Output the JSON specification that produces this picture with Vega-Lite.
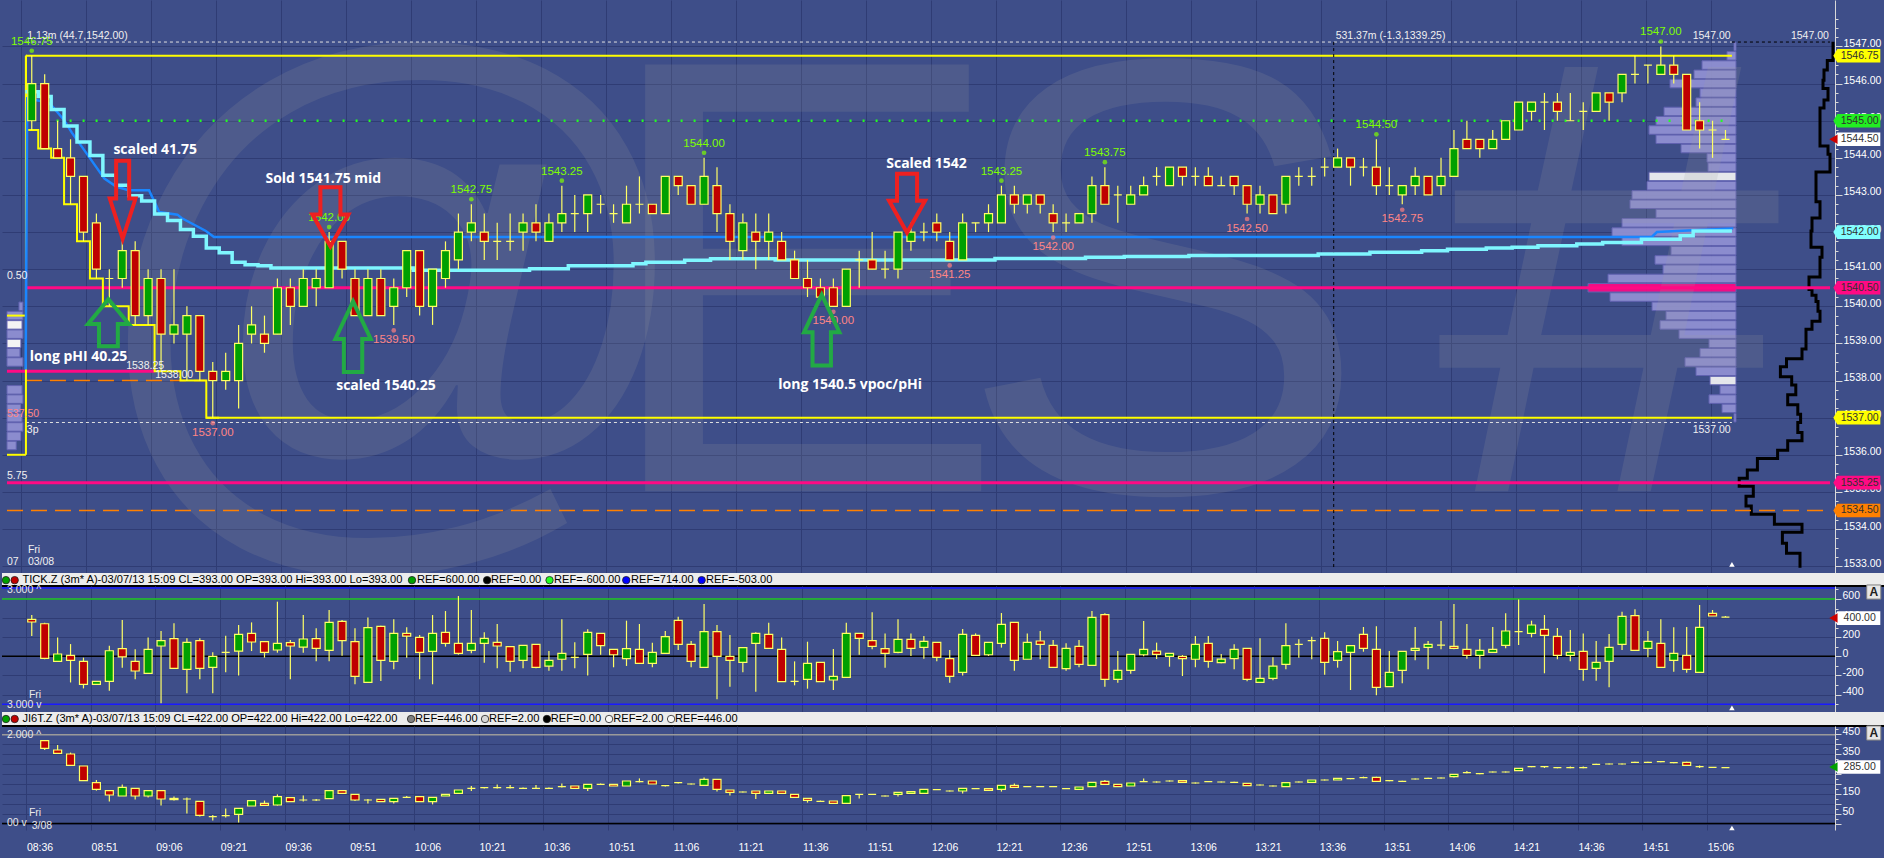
{
"$schema": "https://vega.github.io/schema/vega-lite/v6.json",
"padding": 0,
"background": "#3e4e89",
"spacing": 0,
"bounds": "flush",
"resolve": {"scale": {"color": "independent", "fill": "independent"}},
"config": {"view": {"stroke": null}, "font": "Liberation Sans"},
"datasets": {
"main": [
{"k":0,"o":1545,"h":1546.75,"l":1544.75,"c":1546},{"k":1,"o":1546,"h":1546.25,"l":1544.25,"c":1544.25},{"k":2,"o":1544.25,"h":1545,"l":1544,"c":1544},{"k":3,"o":1544,"h":1544.5,"l":1542.75,"c":1543.5},{"k":4,"o":1543.5,"h":1543.5,"l":1541.75,"c":1542},{"k":5,"o":1542.25,"h":1542.5,"l":1540.75,"c":1541},{"k":6,"o":1540.75,"h":1541,"l":1540,"c":1540.75},{"k":7,"o":1540.75,"h":1541.75,"l":1540.5,"c":1541.5},{"k":8,"o":1541.5,"h":1541.75,"l":1539.5,"c":1539.75},{"k":9,"o":1539.75,"h":1541,"l":1539.5,"c":1540.75},
{"k":10,"o":1540.75,"h":1541,"l":1538.25,"c":1539.25},{"k":11,"o":1539.25,"h":1541,"l":1539,"c":1539.5},{"k":12,"o":1539.25,"h":1540,"l":1538,"c":1539.75},{"k":13,"o":1539.75,"h":1539.75,"l":1538,"c":1538.25},{"k":14,"o":1538.25,"h":1538.5,"l":1537,"c":1538},{"k":15,"o":1538,"h":1538.75,"l":1537.75,"c":1538.25},{"k":16,"o":1538,"h":1539.5,"l":1537.25,"c":1539},{"k":17,"o":1539.25,"h":1540,"l":1539,"c":1539.5},{"k":18,"o":1539.25,"h":1539.75,"l":1538.75,"c":1539},{"k":19,"o":1539.25,"h":1540.75,"l":1539.25,"c":1540.5},
{"k":20,"o":1540.5,"h":1540.75,"l":1539.5,"c":1540},{"k":21,"o":1540,"h":1541,"l":1540,"c":1540.75},{"k":22,"o":1540.5,"h":1541,"l":1540,"c":1540.75},{"k":23,"o":1540.5,"h":1542,"l":1540.5,"c":1541.75},{"k":24,"o":1541.75,"h":1541.75,"l":1540.75,"c":1541},{"k":25,"o":1540.75,"h":1541,"l":1539.75,"c":1539.75},{"k":26,"o":1539.75,"h":1541,"l":1539.75,"c":1540.75},{"k":27,"o":1540.75,"h":1541,"l":1539.75,"c":1539.75},{"k":28,"o":1540,"h":1540.75,"l":1539.5,"c":1540.5},{"k":29,"o":1540.5,"h":1541.5,"l":1540.25,"c":1541.5},
{"k":30,"o":1541.5,"h":1541.5,"l":1539.75,"c":1540},{"k":31,"o":1540,"h":1541,"l":1539.5,"c":1541},{"k":32,"o":1540.75,"h":1541.75,"l":1540.5,"c":1541.5},{"k":33,"o":1541.25,"h":1542.5,"l":1541,"c":1542},{"k":34,"o":1542,"h":1542.75,"l":1541.75,"c":1542.25},{"k":35,"o":1542,"h":1542.5,"l":1541.25,"c":1541.75},{"k":36,"o":1541.75,"h":1542.25,"l":1541.25,"c":1541.75},{"k":37,"o":1541.75,"h":1542.5,"l":1541.5,"c":1541.75},{"k":38,"o":1542,"h":1542.5,"l":1541.5,"c":1542.25},{"k":39,"o":1542.25,"h":1542.75,"l":1541.75,"c":1542},
{"k":40,"o":1541.75,"h":1542.5,"l":1541.75,"c":1542.25},{"k":41,"o":1542.25,"h":1543.25,"l":1542,"c":1542.5},{"k":42,"o":1542.5,"h":1543,"l":1542,"c":1542.5},{"k":43,"o":1542.5,"h":1543,"l":1542,"c":1543},{"k":44,"o":1542.75,"h":1543,"l":1542.5,"c":1542.75},{"k":45,"o":1542.5,"h":1542.75,"l":1542.25,"c":1542.5},{"k":46,"o":1542.25,"h":1543.25,"l":1542.25,"c":1542.75},{"k":47,"o":1542.75,"h":1543.5,"l":1542.5,"c":1542.75},{"k":48,"o":1542.75,"h":1542.75,"l":1542.5,"c":1542.5},{"k":49,"o":1542.5,"h":1543.5,"l":1542.5,"c":1543.5},
{"k":50,"o":1543.5,"h":1543.5,"l":1543,"c":1543.25},{"k":51,"o":1543.25,"h":1543.25,"l":1542.75,"c":1542.75},{"k":52,"o":1542.75,"h":1544,"l":1542.75,"c":1543.5},{"k":53,"o":1543.25,"h":1543.75,"l":1542,"c":1542.5},{"k":54,"o":1542.5,"h":1542.75,"l":1541.25,"c":1541.75},{"k":55,"o":1541.5,"h":1542.5,"l":1541.25,"c":1542.25},{"k":56,"o":1542,"h":1542.5,"l":1541,"c":1541.75},{"k":57,"o":1541.75,"h":1542.5,"l":1541.25,"c":1542},{"k":58,"o":1541.75,"h":1542,"l":1541.25,"c":1541.25},{"k":59,"o":1541.25,"h":1541.5,"l":1540.75,"c":1540.75},
{"k":60,"o":1540.75,"h":1541.25,"l":1540.25,"c":1540.5},{"k":61,"o":1540.5,"h":1540.75,"l":1540.25,"c":1540.25},{"k":62,"o":1540.5,"h":1540.75,"l":1540,"c":1540},{"k":63,"o":1540,"h":1541,"l":1540,"c":1541},{"k":64,"o":1541.25,"h":1541.5,"l":1540.5,"c":1541.25},{"k":65,"o":1541.25,"h":1542,"l":1541,"c":1541},{"k":66,"o":1541,"h":1541.5,"l":1540.75,"c":1541},{"k":67,"o":1541,"h":1542,"l":1540.75,"c":1542},{"k":68,"o":1541.75,"h":1542.25,"l":1541.5,"c":1542},{"k":69,"o":1542,"h":1542.25,"l":1541.75,"c":1542},
{"k":70,"o":1542.25,"h":1542.5,"l":1541.75,"c":1542},{"k":71,"o":1541.75,"h":1542,"l":1541.25,"c":1541.25},{"k":72,"o":1541.25,"h":1542.5,"l":1541.25,"c":1542.25},{"k":73,"o":1542.25,"h":1542.25,"l":1542,"c":1542.25},{"k":74,"o":1542.25,"h":1542.75,"l":1542,"c":1542.5},{"k":75,"o":1542.25,"h":1543.25,"l":1542.25,"c":1543},{"k":76,"o":1543,"h":1543.25,"l":1542.5,"c":1542.75},{"k":77,"o":1542.75,"h":1543,"l":1542.5,"c":1543},{"k":78,"o":1543,"h":1543,"l":1542.5,"c":1542.75},{"k":79,"o":1542.5,"h":1542.75,"l":1542,"c":1542.25},
{"k":80,"o":1542.25,"h":1542.5,"l":1542,"c":1542.25},{"k":81,"o":1542.25,"h":1542.5,"l":1542.25,"c":1542.5},{"k":82,"o":1542.5,"h":1543.5,"l":1542.25,"c":1543.25},{"k":83,"o":1543.25,"h":1543.75,"l":1542.75,"c":1542.75},{"k":84,"o":1543,"h":1543.25,"l":1542.25,"c":1543},{"k":85,"o":1542.75,"h":1543.25,"l":1542.75,"c":1543},{"k":86,"o":1543,"h":1543.5,"l":1543,"c":1543.25},{"k":87,"o":1543.5,"h":1543.75,"l":1543.25,"c":1543.5},{"k":88,"o":1543.25,"h":1543.75,"l":1543.25,"c":1543.75},{"k":89,"o":1543.75,"h":1543.75,"l":1543.25,"c":1543.5},
{"k":90,"o":1543.5,"h":1543.75,"l":1543.25,"c":1543.5},{"k":91,"o":1543.5,"h":1543.75,"l":1543.25,"c":1543.25},{"k":92,"o":1543.25,"h":1543.5,"l":1543.25,"c":1543.25},{"k":93,"o":1543.5,"h":1543.5,"l":1543,"c":1543.25},{"k":94,"o":1543.25,"h":1543.25,"l":1542.5,"c":1542.75},{"k":95,"o":1542.75,"h":1543.25,"l":1542.5,"c":1543},{"k":96,"o":1543,"h":1543,"l":1542.5,"c":1542.5},{"k":97,"o":1542.75,"h":1543.5,"l":1542.5,"c":1543.5},{"k":98,"o":1543.5,"h":1543.75,"l":1543.25,"c":1543.5},{"k":99,"o":1543.5,"h":1543.75,"l":1543.25,"c":1543.5},
{"k":100,"o":1543.75,"h":1544,"l":1543.5,"c":1543.75},{"k":101,"o":1543.75,"h":1544.25,"l":1543.75,"c":1544},{"k":102,"o":1544,"h":1544,"l":1543.25,"c":1543.75},{"k":103,"o":1543.75,"h":1544,"l":1543.5,"c":1543.75},{"k":104,"o":1543.75,"h":1544.5,"l":1543,"c":1543.25},{"k":105,"o":1543.25,"h":1543.75,"l":1543,"c":1543.25},{"k":106,"o":1543,"h":1543.25,"l":1542.75,"c":1543.25},{"k":107,"o":1543.25,"h":1543.75,"l":1543,"c":1543.5},{"k":108,"o":1543.5,"h":1543.5,"l":1543,"c":1543},{"k":109,"o":1543.25,"h":1544,"l":1543,"c":1543.5},
{"k":110,"o":1543.5,"h":1544.75,"l":1543.5,"c":1544.25},{"k":111,"o":1544.5,"h":1545,"l":1544.25,"c":1544.25},{"k":112,"o":1544.5,"h":1544.5,"l":1544,"c":1544.25},{"k":113,"o":1544.25,"h":1544.75,"l":1544.25,"c":1544.5},{"k":114,"o":1544.5,"h":1545,"l":1544.5,"c":1545},{"k":115,"o":1544.75,"h":1545.5,"l":1544.75,"c":1545.5},{"k":116,"o":1545.25,"h":1545.5,"l":1545,"c":1545.5},{"k":117,"o":1545.5,"h":1545.75,"l":1544.75,"c":1545.5},{"k":118,"o":1545.5,"h":1545.75,"l":1545,"c":1545.25},{"k":119,"o":1545,"h":1545.75,"l":1545,"c":1545},
{"k":120,"o":1545.25,"h":1545.5,"l":1544.75,"c":1545.25},{"k":121,"o":1545.25,"h":1545.75,"l":1545.25,"c":1545.75},{"k":122,"o":1545.75,"h":1545.75,"l":1545,"c":1545.5},{"k":123,"o":1545.75,"h":1546.25,"l":1545.5,"c":1546.25},{"k":124,"o":1546.25,"h":1546.75,"l":1546,"c":1546.25},{"k":125,"o":1546.5,"h":1546.5,"l":1546,"c":1546.5},{"k":126,"o":1546.25,"h":1547,"l":1546.25,"c":1546.5},{"k":127,"o":1546.5,"h":1546.75,"l":1546,"c":1546.25},{"k":128,"o":1546.25,"h":1546.25,"l":1544.75,"c":1544.75},{"k":129,"o":1545,"h":1545.5,"l":1544.25,"c":1544.75},
{"k":130,"o":1544.75,"h":1545,"l":1544,"c":1544.75},{"k":131,"o":1544.5,"h":1544.75,"l":1544.5,"c":1544.5}
],
"tk": [
{"k":0,"o":386,"h":432,"l":212,"c":359},{"k":1,"o":341,"h":350,"l":-30,"c":-21},{"k":2,"o":-53,"h":198,"l":-53,"c":24},{"k":3,"o":10,"h":128,"l":-274,"c":-42},{"k":4,"o":-53,"h":-14,"l":-336,"c":-294},{"k":5,"o":-294,"h":-262,"l":-294,"c":-262},{"k":6,"o":-262,"h":111,"l":-360,"c":58},{"k":7,"o":80,"h":380,"l":-120,"c":-7},{"k":8,"o":-53,"h":73,"l":-241,"c":-154},{"k":9,"o":-178,"h":198,"l":-178,"c":73},
{"k":10,"o":108,"h":265,"l":-492,"c":164},{"k":11,"o":185,"h":345,"l":-126,"c":-126},{"k":12,"o":-136,"h":188,"l":-388,"c":146},{"k":13,"o":164,"h":188,"l":-241,"c":-126},{"k":14,"o":-115,"h":42,"l":-388,"c":0},{"k":15,"o":42,"h":216,"l":-168,"c":42},{"k":16,"o":55,"h":327,"l":-200,"c":229},{"k":17,"o":240,"h":355,"l":55,"c":150},{"k":18,"o":153,"h":153,"l":-14,"c":42},{"k":19,"o":66,"h":572,"l":38,"c":136},
{"k":20,"o":143,"h":171,"l":-241,"c":108},{"k":21,"o":97,"h":432,"l":38,"c":181},{"k":22,"o":185,"h":293,"l":-53,"c":83},{"k":23,"o":62,"h":485,"l":-53,"c":355},{"k":24,"o":366,"h":380,"l":6,"c":164},{"k":25,"o":153,"h":293,"l":-293,"c":-210},{"k":26,"o":-272,"h":405,"l":-272,"c":300},{"k":27,"o":314,"h":320,"l":-258,"c":-42},{"k":28,"o":-53,"h":387,"l":-136,"c":240},{"k":29,"o":240,"h":303,"l":-14,"c":212},
{"k":30,"o":198,"h":223,"l":-241,"c":42},{"k":31,"o":52,"h":432,"l":-293,"c":240},{"k":32,"o":250,"h":474,"l":101,"c":136},{"k":33,"o":136,"h":631,"l":17,"c":31},{"k":34,"o":62,"h":485,"l":31,"c":136},{"k":35,"o":136,"h":251,"l":-67,"c":188},{"k":36,"o":146,"h":338,"l":-126,"c":108},{"k":37,"o":101,"h":101,"l":-161,"c":-53},{"k":38,"o":-42,"h":115,"l":-126,"c":115},{"k":39,"o":125,"h":125,"l":-126,"c":-115},
{"k":40,"o":-102,"h":55,"l":-150,"c":-42},{"k":41,"o":-31,"h":387,"l":-150,"c":31},{"k":42,"o":-11,"h":146,"l":-126,"c":-11},{"k":43,"o":20,"h":282,"l":-200,"c":250},{"k":44,"o":240,"h":240,"l":17,"c":111},{"k":45,"o":73,"h":73,"l":-115,"c":16},{"k":46,"o":-25,"h":373,"l":-101,"c":80},{"k":47,"o":73,"h":338,"l":-74,"c":-74},{"k":48,"o":-74,"h":143,"l":-115,"c":42},{"k":49,"o":31,"h":265,"l":31,"c":205},
{"k":50,"o":376,"h":415,"l":66,"c":125},{"k":51,"o":125,"h":160,"l":-115,"c":-53},{"k":52,"o":-115,"h":547,"l":-115,"c":258},{"k":53,"o":258,"h":327,"l":-451,"c":0},{"k":54,"o":0,"h":223,"l":-318,"c":-42},{"k":55,"o":-63,"h":90,"l":-168,"c":90},{"k":56,"o":136,"h":251,"l":-370,"c":240},{"k":57,"o":229,"h":352,"l":83,"c":83},{"k":58,"o":73,"h":198,"l":-265,"c":-265},{"k":59,"o":-262,"h":-53,"l":-304,"c":-262},
{"k":60,"o":-241,"h":153,"l":-339,"c":-74},{"k":61,"o":-63,"h":-63,"l":-265,"c":-265},{"k":62,"o":-248,"h":76,"l":-353,"c":-210},{"k":63,"o":-220,"h":352,"l":-220,"c":240},{"k":64,"o":240,"h":240,"l":17,"c":188},{"k":65,"o":164,"h":460,"l":73,"c":104},{"k":66,"o":80,"h":240,"l":-120,"c":31},{"k":67,"o":42,"h":387,"l":31,"c":178},{"k":68,"o":178,"h":240,"l":3,"c":83},{"k":69,"o":94,"h":212,"l":-25,"c":157},
{"k":70,"o":146,"h":146,"l":-53,"c":-11},{"k":71,"o":-25,"h":66,"l":-276,"c":-210},{"k":72,"o":-168,"h":285,"l":-200,"c":229},{"k":73,"o":219,"h":240,"l":3,"c":10},{"k":74,"o":16,"h":146,"l":3,"c":146},{"k":75,"o":136,"h":453,"l":91,"c":334},{"k":76,"o":355,"h":355,"l":-150,"c":-42},{"k":77,"o":-31,"h":240,"l":-31,"c":146},{"k":78,"o":160,"h":265,"l":-31,"c":125},{"k":79,"o":115,"h":171,"l":-115,"c":-115},
{"k":80,"o":-129,"h":136,"l":-150,"c":83},{"k":81,"o":104,"h":171,"l":-115,"c":-84},{"k":82,"o":-94,"h":474,"l":-94,"c":408},{"k":83,"o":436,"h":450,"l":-318,"c":-241},{"k":84,"o":-241,"h":55,"l":-276,"c":-147},{"k":85,"o":-147,"h":20,"l":-182,"c":20},{"k":86,"o":16,"h":370,"l":0,"c":73},{"k":87,"o":55,"h":143,"l":-28,"c":20},{"k":88,"o":0,"h":31,"l":-109,"c":31},{"k":89,"o":0,"h":13,"l":-206,"c":-25},
{"k":90,"o":-31,"h":212,"l":-115,"c":125},{"k":91,"o":136,"h":212,"l":-119,"c":-53},{"k":92,"o":-66,"h":24,"l":-74,"c":-29},{"k":93,"o":-25,"h":125,"l":-136,"c":73},{"k":94,"o":83,"h":83,"l":-260,"c":-241},{"k":95,"o":-272,"h":188,"l":-272,"c":-231},{"k":96,"o":-231,"h":-11,"l":-251,"c":-102},{"k":97,"o":-84,"h":345,"l":-136,"c":111},{"k":98,"o":125,"h":178,"l":-14,"c":125},{"k":99,"o":164,"h":206,"l":-32,"c":164},
{"k":100,"o":188,"h":251,"l":-192,"c":-63},{"k":101,"o":-42,"h":160,"l":-119,"c":48},{"k":102,"o":42,"h":111,"l":-353,"c":111},{"k":103,"o":229,"h":307,"l":48,"c":83},{"k":104,"o":73,"h":314,"l":-409,"c":-325},{"k":105,"o":-318,"h":55,"l":-318,"c":-168},{"k":106,"o":-147,"h":52,"l":-283,"c":52},{"k":107,"o":62,"h":307,"l":-42,"c":83},{"k":108,"o":94,"h":160,"l":-136,"c":125},{"k":109,"o":118,"h":370,"l":73,"c":118},
{"k":110,"o":104,"h":548,"l":73,"c":83},{"k":111,"o":73,"h":338,"l":-25,"c":10},{"k":112,"o":10,"h":181,"l":-130,"c":62},{"k":113,"o":42,"h":307,"l":42,"c":73},{"k":114,"o":115,"h":450,"l":83,"c":265},{"k":115,"o":258,"h":596,"l":118,"c":258},{"k":116,"o":240,"h":373,"l":199,"c":328},{"k":117,"o":282,"h":432,"l":-178,"c":219},{"k":118,"o":209,"h":296,"l":-32,"c":10},{"k":119,"o":10,"h":275,"l":-53,"c":42},
{"k":120,"o":52,"h":240,"l":-255,"c":-136},{"k":121,"o":-126,"h":160,"l":-255,"c":-63},{"k":122,"o":-53,"h":233,"l":-325,"c":94},{"k":123,"o":125,"h":467,"l":66,"c":418},{"k":124,"o":425,"h":492,"l":62,"c":62},{"k":125,"o":83,"h":265,"l":-11,"c":157},{"k":126,"o":136,"h":387,"l":-115,"c":-115},{"k":127,"o":-42,"h":303,"l":-161,"c":31},{"k":128,"o":10,"h":307,"l":-171,"c":-136},{"k":129,"o":-168,"h":537,"l":-168,"c":303},
{"k":130,"o":450,"h":485,"l":422,"c":422},{"k":131,"o":411,"h":422,"l":411,"c":411}
],
"jg": [
{"k":1,"o":417,"h":417,"l":370,"c":378},{"k":2,"o":370,"h":395,"l":350,"c":353},{"k":3,"o":350,"h":357,"l":293,"c":293},{"k":4,"o":290,"h":290,"l":217,"c":217},{"k":5,"o":207,"h":220,"l":167,"c":173},{"k":6,"o":167,"h":167,"l":112,"c":145},{"k":7,"o":140,"h":198,"l":140,"c":183},{"k":8,"o":178,"h":178,"l":123,"c":140},{"k":9,"o":140,"h":167,"l":133,"c":167},
{"k":10,"o":167,"h":167,"l":92,"c":125},{"k":11,"o":122,"h":137,"l":117,"c":128},{"k":12,"o":125,"h":133,"l":53,"c":125},{"k":13,"o":113,"h":113,"l":37,"c":43},{"k":14,"o":37,"h":45,"l":17,"c":37},{"k":15,"o":42,"h":78,"l":33,"c":42},{"k":16,"o":48,"h":78,"l":7,"c":78},{"k":17,"o":90,"h":117,"l":90,"c":117},{"k":18,"o":103,"h":117,"l":93,"c":93},{"k":19,"o":95,"h":148,"l":92,"c":137},
{"k":20,"o":132,"h":132,"l":112,"c":112},{"k":21,"o":120,"h":142,"l":112,"c":120},{"k":22,"o":120,"h":125,"l":115,"c":120},{"k":23,"o":127,"h":167,"l":127,"c":167},{"k":24,"o":167,"h":167,"l":153,"c":153},{"k":25,"o":148,"h":148,"l":115,"c":120},{"k":26,"o":120,"h":125,"l":103,"c":120},{"k":27,"o":123,"h":123,"l":112,"c":112},{"k":28,"o":112,"h":128,"l":103,"c":128},{"k":29,"o":133,"h":140,"l":130,"c":133},
{"k":30,"o":137,"h":137,"l":112,"c":112},{"k":31,"o":112,"h":133,"l":98,"c":133},{"k":32,"o":140,"h":150,"l":140,"c":148},{"k":33,"o":153,"h":170,"l":153,"c":170},{"k":34,"o":178,"h":190,"l":165,"c":178},{"k":35,"o":182,"h":185,"l":178,"c":182},{"k":36,"o":182,"h":198,"l":178,"c":182},{"k":37,"o":182,"h":195,"l":178,"c":182},{"k":38,"o":178,"h":182,"l":175,"c":178},{"k":39,"o":178,"h":195,"l":175,"c":178},
{"k":40,"o":178,"h":182,"l":175,"c":178},{"k":41,"o":187,"h":202,"l":183,"c":187},{"k":42,"o":190,"h":190,"l":178,"c":178},{"k":43,"o":178,"h":198,"l":165,"c":198},{"k":44,"o":198,"h":202,"l":195,"c":198},{"k":45,"o":198,"h":198,"l":190,"c":190},{"k":46,"o":190,"h":215,"l":190,"c":215},{"k":47,"o":212,"h":228,"l":208,"c":212},{"k":48,"o":215,"h":215,"l":200,"c":200},{"k":49,"o":192,"h":195,"l":188,"c":192},
{"k":50,"o":207,"h":210,"l":203,"c":207},{"k":51,"o":200,"h":203,"l":197,"c":200},{"k":52,"o":193,"h":233,"l":193,"c":223},{"k":53,"o":223,"h":223,"l":162,"c":173},{"k":54,"o":170,"h":170,"l":142,"c":158},{"k":55,"o":160,"h":163,"l":157,"c":160},{"k":56,"o":165,"h":165,"l":125,"c":153},{"k":57,"o":153,"h":165,"l":150,"c":165},{"k":58,"o":165,"h":165,"l":153,"c":153},{"k":59,"o":148,"h":148,"l":133,"c":133},
{"k":60,"o":128,"h":128,"l":107,"c":118},{"k":61,"o":113,"h":117,"l":110,"c":113},{"k":62,"o":115,"h":115,"l":103,"c":103},{"k":63,"o":103,"h":142,"l":103,"c":142},{"k":64,"o":148,"h":150,"l":128,"c":148},{"k":65,"o":148,"h":150,"l":145,"c":148},{"k":66,"o":140,"h":143,"l":137,"c":140},{"k":67,"o":148,"h":158,"l":137,"c":158},{"k":68,"o":153,"h":162,"l":153,"c":162},{"k":69,"o":153,"h":173,"l":153,"c":173},
{"k":70,"o":172,"h":175,"l":170,"c":172},{"k":71,"o":165,"h":168,"l":162,"c":165},{"k":72,"o":165,"h":178,"l":153,"c":178},{"k":73,"o":177,"h":180,"l":175,"c":177},{"k":74,"o":177,"h":177,"l":168,"c":168},{"k":75,"o":173,"h":193,"l":162,"c":193},{"k":76,"o":193,"h":203,"l":183,"c":183},{"k":77,"o":187,"h":190,"l":185,"c":187},{"k":78,"o":187,"h":190,"l":185,"c":187},{"k":79,"o":187,"h":190,"l":185,"c":187},
{"k":80,"o":177,"h":180,"l":175,"c":177},{"k":81,"o":173,"h":185,"l":173,"c":185},{"k":82,"o":187,"h":208,"l":187,"c":208},{"k":83,"o":213,"h":220,"l":198,"c":198},{"k":84,"o":198,"h":198,"l":187,"c":187},{"k":85,"o":190,"h":205,"l":190,"c":205},{"k":86,"o":212,"h":228,"l":210,"c":212},{"k":87,"o":210,"h":213,"l":207,"c":210},{"k":88,"o":215,"h":218,"l":212,"c":215},{"k":89,"o":217,"h":217,"l":208,"c":208},
{"k":90,"o":205,"h":208,"l":203,"c":205},{"k":91,"o":212,"h":215,"l":210,"c":212},{"k":92,"o":210,"h":213,"l":208,"c":210},{"k":93,"o":208,"h":211,"l":206,"c":208},{"k":94,"o":203,"h":203,"l":192,"c":192},{"k":95,"o":195,"h":198,"l":192,"c":195},{"k":96,"o":190,"h":193,"l":187,"c":190},{"k":97,"o":187,"h":207,"l":187,"c":207},{"k":98,"o":210,"h":213,"l":207,"c":210},{"k":99,"o":208,"h":220,"l":208,"c":220},
{"k":100,"o":220,"h":223,"l":217,"c":220},{"k":101,"o":220,"h":228,"l":220,"c":228},{"k":102,"o":227,"h":230,"l":224,"c":227},{"k":103,"o":232,"h":237,"l":229,"c":232},{"k":104,"o":233,"h":236,"l":213,"c":213},{"k":105,"o":217,"h":220,"l":214,"c":217},{"k":106,"o":213,"h":216,"l":210,"c":213},{"k":107,"o":225,"h":228,"l":222,"c":225},{"k":108,"o":228,"h":231,"l":225,"c":228},{"k":109,"o":230,"h":233,"l":227,"c":230},
{"k":110,"o":237,"h":248,"l":232,"c":248},{"k":111,"o":257,"h":265,"l":254,"c":257},{"k":112,"o":252,"h":255,"l":249,"c":252},{"k":113,"o":260,"h":263,"l":257,"c":260},{"k":114,"o":260,"h":263,"l":257,"c":260},{"k":115,"o":267,"h":278,"l":267,"c":278},{"k":116,"o":287,"h":290,"l":284,"c":287},{"k":117,"o":287,"h":290,"l":280,"c":287},{"k":118,"o":282,"h":285,"l":279,"c":282},{"k":119,"o":282,"h":287,"l":279,"c":282},
{"k":120,"o":282,"h":288,"l":279,"c":282},{"k":121,"o":298,"h":301,"l":295,"c":298},{"k":122,"o":300,"h":303,"l":297,"c":300},{"k":123,"o":300,"h":303,"l":297,"c":300},{"k":124,"o":308,"h":311,"l":305,"c":308},{"k":125,"o":308,"h":311,"l":305,"c":308},{"k":126,"o":312,"h":315,"l":309,"c":312},{"k":127,"o":307,"h":310,"l":304,"c":307},{"k":128,"o":308,"h":311,"l":293,"c":293},{"k":129,"o":287,"h":292,"l":280,"c":287},
{"k":130,"o":283,"h":285,"l":281,"c":283},{"k":131,"o":282,"h":283,"l":281,"c":282}
],
"vw": [
{"k":-0.5,"p":1545.78},{"k":0.5,"p":1545.65},{"k":1.5,"p":1545.3},{"k":2.5,"p":1544.86},{"k":3.5,"p":1544.43},{"k":4.5,"p":1544.06},{"k":5.5,"p":1543.53},{"k":6.5,"p":1543.26},{"k":7.5,"p":1542.98},{"k":8.5,"p":1542.84},{"k":9.5,"p":1542.49},{"k":10.5,"p":1542.31},{"k":11.5,"p":1542.07},{"k":12.5,"p":1541.89},{"k":13.5,"p":1541.57},{"k":14.5,"p":1541.44},{"k":15.5,"p":1541.19},{"k":16.5,"p":1541.12},{"k":17.5,"p":1541.09},{"k":18.5,"p":1541.03},{"k":29.5,"p":1540.97},{"k":38.5,"p":1541.01},{"k":41.5,"p":1541.09},{"k":46.5,"p":1541.15},{"k":47.5,"p":1541.19},{"k":50.5,"p":1541.24},{"k":52.5,"p":1541.28},{"k":57.5,"p":1541.25},{"k":74.5,"p":1541.29},{"k":81.5,"p":1541.32},{"k":84.5,"p":1541.34},{"k":89.5,"p":1541.37},{"k":99.5,"p":1541.41},{"k":103.5,"p":1541.46},{"k":107.5,"p":1541.5},{"k":109.5,"p":1541.54},{"k":112.5,"p":1541.57},{"k":114.5,"p":1541.59},{"k":116.5,"p":1541.63},{"k":119.5,"p":1541.68},{"k":121.5,"p":1541.72},{"k":124.5,"p":1541.81},{"k":127.5,"p":1541.9},{"k":128.5,"p":1542.03},{"k":131.5,"p":1542.03}
],
"bl": [
{"k":-0.47,"p":1538.3},{"k":-0.35,"p":1545.6},{"k":1.2,"p":1545.5},{"k":1.48,"p":1545.43},{"k":2.48,"p":1545.03},{"k":3.1,"p":1544.68},{"k":4.36,"p":1544.06},{"k":5.62,"p":1543.44},{"k":6.56,"p":1543.22},{"k":7.5,"p":1543.13},{"k":9.07,"p":1543.13},{"k":9.86,"p":1542.54},{"k":11.27,"p":1542.47},{"k":11.58,"p":1542.38},{"k":13.47,"p":1542.03},{"k":14.09,"p":1541.87},{"k":125.3,"p":1541.87},{"k":125.7,"p":1542.0},{"k":128.5,"p":1542.05},{"k":131.6,"p":1542.1}
],
"ld": [
{"k":-0.46,"p":1546.75},{"k":-0.45,"p":1544.75},{"k":0.5,"p":1544.25},{"k":1.5,"p":1544},{"k":2.5,"p":1542.75},{"k":3.5,"p":1541.75},{"k":4.5,"p":1540.75},{"k":5.5,"p":1540},{"k":7.5,"p":1539.5},{"k":9.5,"p":1538.25},{"k":11.5,"p":1538},{"k":13.5,"p":1537},{"k":14.5,"p":1537}
],
"lv": [
{"p":1546.75,"k0":-0.45,"k1":131.5,"kind":"range"},{"p":1537,"k0":13.5,"k1":131.5,"kind":"range"},{"p":1539.75,"k0":-1.915,"k1":-0.45,"kind":"range"},{"p":1536,"k0":-1.915,"k1":-0.45,"kind":"range"},
{"p":1545,"k0":1.92,"k1":131.5,"kind":"target"},
{"p":1540.5,"k0":-0.45,"k1":139.085,"kind":"vpoc"},{"p":1535.25,"k0":-1.915,"k1":139.085,"kind":"vpoc"},{"p":1538.25,"k0":-1.915,"k1":9.5,"kind":"vpoc"},
{"p":1534.5,"k0":-1.915,"k1":139.085,"kind":"pivot"},{"p":1538,"k0":-0.45,"k1":13.5,"kind":"pivot"},
{"p":1547.12,"k0":-0.45,"k1":131.5,"kind":"extreme"},{"p":1536.87,"k0":-0.45,"k1":131.5,"kind":"extreme"},
{"p":1547.12,"k0":131.5,"k1":139.085,"kind":"cursor"}
],
"vl": [
{"k":-0.45,"p":1546.75,"p2":1536,"kind":"range"},{"k":100.7,"p":1547.12,"p2":1532.95,"kind":"cursor"}
],
"vp0": [
{"p":1540.0,"k0":-0.99,"k1":-0.68,"kind":"n"},{"p":1539.75,"k0":-1.915,"k1":-0.68,"kind":"n"},{"p":1539.5,"k0":-1.915,"k1":-0.75,"kind":"hv"},{"p":1539.25,"k0":-1.915,"k1":-0.68,"kind":"n"},{"p":1539.0,"k0":-1.915,"k1":-0.84,"kind":"hv"},{"p":1538.75,"k0":-1.915,"k1":-0.91,"kind":"n"},{"p":1538.5,"k0":-1.915,"k1":-0.68,"kind":"n"},{"p":1537.75,"k0":-1.915,"k1":-0.75,"kind":"n"},{"p":1537.5,"k0":-1.915,"k1":-0.68,"kind":"n"},{"p":1537.25,"k0":-1.915,"k1":-0.84,"kind":"n"},{"p":1537.0,"k0":-1.915,"k1":-0.75,"kind":"n"},{"p":1536.75,"k0":-1.915,"k1":-0.68,"kind":"n"},{"p":1536.5,"k0":-1.915,"k1":-0.84,"kind":"n"},{"p":1536.25,"k0":-1.915,"k1":-1.2,"kind":"n"}
],
"hl": [
{"k":0,"p":1546.75,"t":"1546.75","kind":"hi"},{"k":23,"p":1542,"t":"1542.00","kind":"hi"},{"k":34,"p":1542.75,"t":"1542.75","kind":"hi"},{"k":41,"p":1543.25,"t":"1543.25","kind":"hi"},{"k":52,"p":1544,"t":"1544.00","kind":"hi"},{"k":75,"p":1543.25,"t":"1543.25","kind":"hi"},{"k":83,"p":1543.75,"t":"1543.75","kind":"hi"},{"k":104,"p":1544.5,"t":"1544.50","kind":"hi"},{"k":126,"p":1547,"t":"1547.00","kind":"hi"},
{"k":14,"p":1537,"t":"1537.00","kind":"lo"},{"k":28,"p":1539.5,"t":"1539.50","kind":"lo"},{"k":62,"p":1540,"t":"1540.00","kind":"lo"},{"k":71,"p":1541.25,"t":"1541.25","kind":"lo"},{"k":79,"p":1542,"t":"1542.00","kind":"lo"},{"k":94,"p":1542.5,"t":"1542.50","kind":"lo"},{"k":106,"p":1542.75,"t":"1542.75","kind":"lo"}
],
"arw": [
{"k":7.03,"p":1542.87,"a":"r1"},{"k":23.1,"p":1542.41,"a":"r2"},{"k":67.7,"p":1542.78,"a":"r2"},{"k":5.93,"p":1539.56,"a":"g1"},{"k":24.85,"p":1539.18,"a":"g2"},{"k":61.1,"p":1539.36,"a":"g2"}
],
"nt": [
{"k":9.55,"p":1544.2,"t":"scaled 41.75"},{"k":22.55,"p":1543.43,"t":"Sold 1541.75 mid"},{"k":3.62,"p":1538.64,"t":"long pHI 40.25"},{"k":27.4,"p":1537.85,"t":"scaled 1540.25"},{"k":63.3,"p":1537.87,"t":"long 1540.5 vpoc/pHi"},{"k":69.2,"p":1543.83,"t":"Scaled 1542"}
],
"txl": [
{"k":-0.346,"p":1547.28,"t":"1.13m (44.7,1542.00)","kind":"w"},{"k":100.85,"p":1547.28,"t":"531.37m (-1.3,1339.25)","kind":"w"},{"k":-1.915,"p":1540.81,"t":"0.50","kind":"w"},{"k":-0.38,"p":1536.66,"t":"3p","kind":"w"},{"k":-1.915,"p":1535.44,"t":"5.75","kind":"w"},{"k":-0.3,"p":1533.43,"t":"Fri","kind":"w"},{"k":-0.3,"p":1533.11,"t":"03/08","kind":"w"},{"k":-1.915,"p":1533.11,"t":"07","kind":"w"},{"k":-1.915,"p":1537.11,"t":"537.50","kind":"s"},{"k":7.3,"p":1538.4,"t":"1538.25","kind":"w"},{"k":9.55,"p":1538.14,"t":"1538.00","kind":"w"}
],
"txr": [
{"k":131.4,"p":1547.28,"t":"1547.00"},{"k":139.0,"p":1547.28,"t":"1547.00"},{"k":131.4,"p":1536.67,"t":"1537.00"}
],
"tg": [
{"p":1546.75,"t":"1546.75","kind":"range"},{"p":1545,"t":"1545.00","kind":"target"},{"p":1544.5,"t":"1544.50","kind":"last"},{"p":1542,"t":"1542.00","kind":"vwap"},{"p":1540.5,"t":"1540.50","kind":"vpoc"},{"p":1537,"t":"1537.00","kind":"range"},{"p":1535.25,"t":"1535.25","kind":"vpoc"},{"p":1534.5,"t":"1534.50","kind":"pivot"}
],
"vp": [
{"p":1547,"vol":2,"kind":"n"},{"p":1546.75,"vol":9,"kind":"n"},{"p":1546.5,"vol":34,"kind":"n"},{"p":1546.25,"vol":42,"kind":"n"},{"p":1546,"vol":66,"kind":"n"},{"p":1545.75,"vol":36,"kind":"n"},{"p":1545.5,"vol":40,"kind":"n"},{"p":1545.25,"vol":72,"kind":"n"},{"p":1545,"vol":80,"kind":"n"},{"p":1544.75,"vol":87,"kind":"n"},{"p":1544.5,"vol":80,"kind":"n"},{"p":1544.25,"vol":55,"kind":"n"},{"p":1544,"vol":29,"kind":"n"},{"p":1543.75,"vol":28,"kind":"n"},{"p":1543.5,"vol":87,"kind":"hv"},{"p":1543.25,"vol":89,"kind":"n"},{"p":1543,"vol":104,"kind":"n"},{"p":1542.75,"vol":106,"kind":"n"},{"p":1542.5,"vol":80,"kind":"n"},{"p":1542.25,"vol":114,"kind":"n"},{"p":1542,"vol":124,"kind":"n"},{"p":1541.75,"vol":114,"kind":"n"},{"p":1541.5,"vol":65,"kind":"n"},{"p":1541.25,"vol":81,"kind":"n"},{"p":1541,"vol":73,"kind":"n"},{"p":1540.75,"vol":128,"kind":"n"},{"p":1540.5,"vol":148,"kind":"poc"},{"p":1540.25,"vol":126,"kind":"n"},{"p":1540,"vol":84,"kind":"n"},{"p":1539.75,"vol":70,"kind":"n"},{"p":1539.5,"vol":76,"kind":"n"},{"p":1539.25,"vol":57,"kind":"n"},{"p":1539,"vol":27,"kind":"n"},{"p":1538.75,"vol":36,"kind":"n"},{"p":1538.5,"vol":51,"kind":"n"},{"p":1538.25,"vol":40,"kind":"n"},{"p":1538,"vol":26,"kind":"hv"},{"p":1537.75,"vol":16,"kind":"n"},{"p":1537.5,"vol":27,"kind":"n"},{"p":1537.25,"vol":14,"kind":"n"},{"p":1537,"vol":2,"kind":"n"}
],
"bk": [
{"p":1547.13,"n":2},{"p":1546.62,"n":7.7},{"p":1546.37,"n":11},{"p":1546.09,"n":12},{"p":1545.87,"n":7},{"p":1545.56,"n":11},{"p":1545.34,"n":15},{"p":1544.32,"n":7},{"p":1544.1,"n":5},{"p":1543.62,"n":19},{"p":1542.82,"n":15},{"p":1542.38,"n":23},{"p":1542.03,"n":24},{"p":1541.59,"n":13},{"p":1541.32,"n":15},{"p":1540.79,"n":26},{"p":1540.45,"n":23},{"p":1540.3,"n":19},{"p":1540.13,"n":17},{"p":1539.87,"n":15},{"p":1539.6,"n":23},{"p":1539.38,"n":29},{"p":1538.85,"n":33},{"p":1538.59,"n":48.5},{"p":1538.37,"n":54.6},{"p":1538.1,"n":43.3},{"p":1537.88,"n":39.2},{"p":1537.62,"n":47.3},{"p":1537.35,"n":37.2},{"p":1537.09,"n":34.4},{"p":1536.87,"n":37.2},{"p":1536.6,"n":33},{"p":1536.38,"n":47.3},{"p":1536.12,"n":57.4},{"p":1535.9,"n":77.6},{"p":1535.59,"n":87.7},{"p":1535.37,"n":95.8},{"p":1535.15,"n":81.7},{"p":1534.88,"n":89},{"p":1534.62,"n":83.7},{"p":1534.4,"n":60.6},{"p":1534.13,"n":33},{"p":1533.91,"n":52.6},{"p":1533.62,"n":48.5},{"p":1533.35,"n":35},{"p":1532.96,"n":35}
],
"wm": [
{"k":28.0,"p":1535.02,"t":"@"},{"k":59.5,"p":1535.02,"t":"E"},{"k":87.5,"p":1535.02,"t":"S"},{"k":122.0,"p":1535.02,"t":"#"}
],
"b1t": [
{"k":-0.346,"t":"TICK.Z (3m* A)-03/07/13 15:09 CL=393.00 OP=393.00 Hi=393.00 Lo=393.00"},{"k":30.0,"t":"REF=600.00"},{"k":35.7,"t":"REF=0.00"},{"k":40.55,"t":"REF=-600.00"},{"k":46.47,"t":"REF=714.00"},{"k":52.24,"t":"REF=-503.00"}
],
"b1d": [
{"k":-1.61,"c":"g"},{"k":-0.94,"c":"r"},{"k":29.62,"c":"g"},{"k":35.4,"c":"k"},{"k":40.2,"c":"lg"},{"k":46.1,"c":"b"},{"k":51.9,"c":"b"}
],
"b2t": [
{"k":-0.346,"t":"JI6T.Z (3m* A)-03/07/13 15:09 CL=422.00 OP=422.00 Hi=422.00 Lo=422.00"},{"k":29.85,"t":"REF=446.00"},{"k":35.55,"t":"REF=2.00"},{"k":40.3,"t":"REF=0.00"},{"k":45.1,"t":"REF=2.00"},{"k":49.85,"t":"REF=446.00"}
],
"b2d": [
{"k":-1.61,"c":"g"},{"k":-0.94,"c":"r"},{"k":29.55,"c":"gray"},{"k":35.24,"c":"w"},{"k":40.0,"c":"k"},{"k":44.78,"c":"o"},{"k":49.55,"c":"o"}
]
},
"vconcat": [
{
"width": 1833, "height": 573,
"resolve": {"scale": {"x": "independent", "fill": "independent"}, "axis": {"x": "independent", "y": "independent"}},
"layer": [
{"data": {"name": "main"}, "mark": {"type": "rule", "opacity": 0},
 "encoding": {"x": {"field": "k", "type": "quantitative", "scale": {"domain": [-1.915, 139.085], "nice": false, "zero": false},
   "axis": {"orient": "bottom", "values": [-0.44,4.56,9.56,14.56,19.56,24.56,29.56,34.56,39.56,44.56,49.56,54.56,59.56,64.56,69.56,74.56,79.56,84.56,89.56,94.56,99.56,104.56,109.56,114.56,119.56,124.56,129.56], "grid": true, "gridColor": "#2f3c74", "labels": false, "ticks": false, "domain": false, "title": null}},
  "y": {"field": "l", "type": "quantitative", "scale": {"domain": [1532.95, 1548.118], "nice": false, "zero": false},
   "axis": {"orient": "right", "values": [1533,1534,1535,1536,1537,1538,1539,1540,1541,1542,1543,1544,1545,1546,1547], "format": ".2f",
    "grid": true, "gridColor": "#2f3c74", "tickSize": 7, "tickColor": "#d8d8d8", "domainColor": "#d8d8d8", "labelColor": "#ffffff", "labelFont": "Liberation Sans", "labelFontSize": 10.5, "labelOffset": -3, "labelPadding": 1, "labelOverlap": false, "title": null}},
  "y2": {"field": "h"}}},
{"data": {"name": "main"}, "mark": {"type": "rule", "opacity": 0},
 "encoding": {"x": {"field": "k", "type": "quantitative", "scale": {"domain": [-1.915, 139.085], "nice": false, "zero": false}, "axis": null},
  "y": {"field": "l", "type": "quantitative", "scale": {"domain": [1532.95, 1548.118], "nice": false, "zero": false},
   "axis": {"orient": "right", "values": [1533.25,1533.5,1533.75,1534.25,1534.5,1534.75,1535.25,1535.5,1535.75,1536.25,1536.5,1536.75,1537.25,1537.5,1537.75,1538.25,1538.5,1538.75,1539.25,1539.5,1539.75,1540.25,1540.5,1540.75,1541.25,1541.5,1541.75,1542.25,1542.5,1542.75,1543.25,1543.5,1543.75,1544.25,1544.5,1544.75,1545.25,1545.5,1545.75,1546.25,1546.5,1546.75,1547.25,1547.5,1547.75],
    "labels": false, "grid": false, "domain": false, "tickSize": 3, "tickColor": "#d8d8d8", "title": null}},
  "y2": {"field": "h"}}},
{"data": {"name": "vp"}, "mark": {"type": "bar", "height": 8.5, "stroke": "#6464b4", "strokeWidth": 1, "opacity": 0.92},
 "encoding": {"x": {"field": "vol", "type": "quantitative", "scale": {"domain": [-99, 1734], "reverse": true, "nice": false, "zero": false}, "axis": null},
  "x2": {"datum": 0},
  "y": {"field": "p", "type": "quantitative", "scale": {"domain": [1532.95, 1548.118], "nice": false, "zero": false}, "axis": null},
  "fill": {"field": "kind", "type": "nominal", "scale": {"domain": ["n", "poc", "hv"], "range": ["#9292d4", "#ff0a84", "#f4f4f4"]}, "legend": null}}},
{"data": {"name": "bk"}, "mark": {"type": "line", "interpolate": "step-before", "color": "#000000", "strokeWidth": 3},
 "encoding": {"x": {"field": "n", "type": "quantitative", "scale": {"domain": [0, 1833], "reverse": true, "nice": false, "zero": false}, "axis": null},
  "y": {"field": "p", "type": "quantitative", "scale": {"domain": [1532.95, 1548.118], "nice": false, "zero": false}, "axis": null},
  "order": {"field": "p", "sort": "descending"}}},
{"layer": [
{"data": {"name": "wm"}, "mark": {"type": "text", "font": "Liberation Sans", "fontSize": 620, "fill": "#a0a0a0", "opacity": 0.16, "align": "center", "baseline": "alphabetic", "clip": true},
 "encoding": {"x": {"field": "k", "type": "quantitative", "scale": {"domain": [-1.915, 139.085], "nice": false, "zero": false}, "axis": null},
  "y": {"field": "p", "type": "quantitative", "scale": {"domain": [1532.95, 1548.118], "nice": false, "zero": false}, "axis": null}, "text": {"field": "t"}}},
{"data": {"name": "vp0"}, "transform": [{"filter": "datum.kind == 'n'"}], "mark": {"type": "bar", "height": 8.5, "fill": "#9292d4", "stroke": "#6464b4", "strokeWidth": 1, "opacity": 0.92},
 "encoding": {"x": {"field": "k0", "type": "quantitative", "scale": {"domain": [-1.915, 139.085], "nice": false, "zero": false}, "axis": null}, "x2": {"field": "k1"},
  "y": {"field": "p", "type": "quantitative", "scale": {"domain": [1532.95, 1548.118], "nice": false, "zero": false}, "axis": null}}},
{"data": {"name": "vp0"}, "transform": [{"filter": "datum.kind == 'hv'"}], "mark": {"type": "bar", "height": 8.5, "fill": "#f4f4f4", "stroke": "#6464b4", "strokeWidth": 1},
 "encoding": {"x": {"field": "k0", "type": "quantitative", "scale": {"domain": [-1.915, 139.085], "nice": false, "zero": false}, "axis": null}, "x2": {"field": "k1"},
  "y": {"field": "p", "type": "quantitative", "scale": {"domain": [1532.95, 1548.118], "nice": false, "zero": false}, "axis": null}}},
{"data": {"name": "lv"}, "transform": [{"filter": "datum.kind == 'range'"}], "mark": {"type": "rule", "color": "#ffff00", "strokeWidth": 2},
 "encoding": {"x": {"field": "k0", "type": "quantitative", "scale": {"domain": [-1.915, 139.085], "nice": false, "zero": false}, "axis": null}, "x2": {"field": "k1"},
  "y": {"field": "p", "type": "quantitative", "scale": {"domain": [1532.95, 1548.118], "nice": false, "zero": false}, "axis": null}}},
{"data": {"name": "lv"}, "transform": [{"filter": "datum.kind == 'target'"}], "mark": {"type": "rule", "color": "#22ff22", "strokeWidth": 2.5, "strokeDash": [2, 11]},
 "encoding": {"x": {"field": "k0", "type": "quantitative", "scale": {"domain": [-1.915, 139.085], "nice": false, "zero": false}, "axis": null}, "x2": {"field": "k1"},
  "y": {"field": "p", "type": "quantitative", "scale": {"domain": [1532.95, 1548.118], "nice": false, "zero": false}, "axis": null}}},
{"data": {"name": "lv"}, "transform": [{"filter": "datum.kind == 'vpoc'"}], "mark": {"type": "rule", "color": "#ff0a84", "strokeWidth": 3},
 "encoding": {"x": {"field": "k0", "type": "quantitative", "scale": {"domain": [-1.915, 139.085], "nice": false, "zero": false}, "axis": null}, "x2": {"field": "k1"},
  "y": {"field": "p", "type": "quantitative", "scale": {"domain": [1532.95, 1548.118], "nice": false, "zero": false}, "axis": null}}},
{"data": {"name": "lv"}, "transform": [{"filter": "datum.kind == 'pivot'"}], "mark": {"type": "rule", "color": "#ff8000", "strokeWidth": 1.5, "strokeDash": [16, 8]},
 "encoding": {"x": {"field": "k0", "type": "quantitative", "scale": {"domain": [-1.915, 139.085], "nice": false, "zero": false}, "axis": null}, "x2": {"field": "k1"},
  "y": {"field": "p", "type": "quantitative", "scale": {"domain": [1532.95, 1548.118], "nice": false, "zero": false}, "axis": null}}},
{"data": {"name": "lv"}, "transform": [{"filter": "datum.kind == 'extreme'"}], "mark": {"type": "rule", "color": "#e0e0e0", "strokeWidth": 1, "strokeDash": [3, 3]},
 "encoding": {"x": {"field": "k0", "type": "quantitative", "scale": {"domain": [-1.915, 139.085], "nice": false, "zero": false}, "axis": null}, "x2": {"field": "k1"},
  "y": {"field": "p", "type": "quantitative", "scale": {"domain": [1532.95, 1548.118], "nice": false, "zero": false}, "axis": null}}},
{"data": {"name": "lv"}, "transform": [{"filter": "datum.kind == 'cursor'"}], "mark": {"type": "rule", "color": "#000000", "strokeWidth": 1, "strokeDash": [3, 3]},
 "encoding": {"x": {"field": "k0", "type": "quantitative", "scale": {"domain": [-1.915, 139.085], "nice": false, "zero": false}, "axis": null}, "x2": {"field": "k1"},
  "y": {"field": "p", "type": "quantitative", "scale": {"domain": [1532.95, 1548.118], "nice": false, "zero": false}, "axis": null}}},
{"data": {"name": "vl"}, "transform": [{"filter": "datum.kind == 'range'"}], "mark": {"type": "rule", "color": "#ffff00", "strokeWidth": 2},
 "encoding": {"x": {"field": "k", "type": "quantitative", "scale": {"domain": [-1.915, 139.085], "nice": false, "zero": false}, "axis": null},
  "y": {"field": "p", "type": "quantitative", "scale": {"domain": [1532.95, 1548.118], "nice": false, "zero": false}, "axis": null}, "y2": {"field": "p2"}}},
{"data": {"name": "vl"}, "transform": [{"filter": "datum.kind == 'cursor'"}], "mark": {"type": "rule", "color": "#000000", "strokeWidth": 1, "strokeDash": [3, 3]},
 "encoding": {"x": {"field": "k", "type": "quantitative", "scale": {"domain": [-1.915, 139.085], "nice": false, "zero": false}, "axis": null},
  "y": {"field": "p", "type": "quantitative", "scale": {"domain": [1532.95, 1548.118], "nice": false, "zero": false}, "axis": null}, "y2": {"field": "p2"}}},
{"data": {"name": "ld"}, "mark": {"type": "line", "interpolate": "step-after", "color": "#ffff00", "strokeWidth": 2},
 "encoding": {"x": {"field": "k", "type": "quantitative", "scale": {"domain": [-1.915, 139.085], "nice": false, "zero": false}, "axis": null},
  "y": {"field": "p", "type": "quantitative", "scale": {"domain": [1532.95, 1548.118], "nice": false, "zero": false}, "axis": null}}},
{"data": {"name": "bl"}, "mark": {"type": "line", "color": "#1a86ff", "strokeWidth": 2.5},
 "encoding": {"x": {"field": "k", "type": "quantitative", "scale": {"domain": [-1.915, 139.085], "nice": false, "zero": false}, "axis": null},
  "y": {"field": "p", "type": "quantitative", "scale": {"domain": [1532.95, 1548.118], "nice": false, "zero": false}, "axis": null}}},
{"data": {"name": "vw"}, "mark": {"type": "line", "interpolate": "step-after", "color": "#7ff6ff", "strokeWidth": 3.5},
 "encoding": {"x": {"field": "k", "type": "quantitative", "scale": {"domain": [-1.915, 139.085], "nice": false, "zero": false}, "axis": null},
  "y": {"field": "p", "type": "quantitative", "scale": {"domain": [1532.95, 1548.118], "nice": false, "zero": false}, "axis": null}}},
{"data": {"name": "main"}, "mark": {"type": "rule", "color": "#ffff66", "strokeWidth": 1.2},
 "encoding": {"x": {"field": "k", "type": "quantitative", "scale": {"domain": [-1.915, 139.085], "nice": false, "zero": false}, "axis": null},
  "y": {"field": "l", "type": "quantitative", "scale": {"domain": [1532.95, 1548.118], "nice": false, "zero": false}, "axis": null},
  "y2": {"field": "h"}}},
{"data": {"name": "main"}, "mark": {"type": "bar", "width": 8, "stroke": "#ffff66", "strokeWidth": 1.2},
 "encoding": {"x": {"field": "k", "type": "quantitative", "scale": {"domain": [-1.915, 139.085], "nice": false, "zero": false}, "axis": null},
  "y": {"field": "o", "type": "quantitative", "scale": {"domain": [1532.95, 1548.118], "nice": false, "zero": false}, "axis": null}, "y2": {"field": "c"},
  "fill": {"condition": [{"test": "datum.c > datum.o", "value": "#00a000"}, {"test": "datum.c < datum.o", "value": "#bf0000"}], "value": "#ffff66"}}},
{"data": {"name": "hl"}, "transform": [{"filter": "datum.kind == 'hi'"}], "mark": {"type": "point", "shape": "circle", "filled": true, "size": 22, "color": "#7fff00", "yOffset": -5},
 "encoding": {"x": {"field": "k", "type": "quantitative", "scale": {"domain": [-1.915, 139.085], "nice": false, "zero": false}, "axis": null},
  "y": {"field": "p", "type": "quantitative", "scale": {"domain": [1532.95, 1548.118], "nice": false, "zero": false}, "axis": null}}},
{"data": {"name": "hl"}, "transform": [{"filter": "datum.kind == 'hi'"}], "mark": {"type": "text", "color": "#7fff00", "fontSize": 11.5, "dy": -14, "align": "center", "baseline": "middle"},
 "encoding": {"x": {"field": "k", "type": "quantitative", "scale": {"domain": [-1.915, 139.085], "nice": false, "zero": false}, "axis": null},
  "y": {"field": "p", "type": "quantitative", "scale": {"domain": [1532.95, 1548.118], "nice": false, "zero": false}, "axis": null}, "text": {"field": "t"}}},
{"data": {"name": "hl"}, "transform": [{"filter": "datum.kind == 'lo'"}], "mark": {"type": "point", "shape": "circle", "filled": true, "size": 22, "color": "#ff7f7f", "yOffset": 5.5},
 "encoding": {"x": {"field": "k", "type": "quantitative", "scale": {"domain": [-1.915, 139.085], "nice": false, "zero": false}, "axis": null},
  "y": {"field": "p", "type": "quantitative", "scale": {"domain": [1532.95, 1548.118], "nice": false, "zero": false}, "axis": null}}},
{"data": {"name": "hl"}, "transform": [{"filter": "datum.kind == 'lo'"}], "mark": {"type": "text", "color": "#ff8585", "fontSize": 11.5, "dy": 15, "align": "center", "baseline": "middle"},
 "encoding": {"x": {"field": "k", "type": "quantitative", "scale": {"domain": [-1.915, 139.085], "nice": false, "zero": false}, "axis": null},
  "y": {"field": "p", "type": "quantitative", "scale": {"domain": [1532.95, 1548.118], "nice": false, "zero": false}, "axis": null}, "text": {"field": "t"}}},
{"data": {"name": "arw"}, "transform": [{"filter": "datum.a == 'r1'"}], "mark": {"type": "point", "filled": false, "stroke": "#ee2020", "strokeWidth": 4, "opacity": 1, "size": 6084, "shape": "M -0.167 -1 L 0.167 -1 L 0.167 -0.03 L 0.33 -0.03 L 0 1 L -0.33 -0.03 L -0.167 -0.03 Z"},
 "encoding": {"x": {"field": "k", "type": "quantitative", "scale": {"domain": [-1.915, 139.085], "nice": false, "zero": false}, "axis": null},
  "y": {"field": "p", "type": "quantitative", "scale": {"domain": [1532.95, 1548.118], "nice": false, "zero": false}, "axis": null}}},
{"data": {"name": "arw"}, "transform": [{"filter": "datum.a == 'r2'"}], "mark": {"type": "point", "filled": false, "stroke": "#ee2020", "strokeWidth": 4, "opacity": 1, "size": 3481, "shape": "M -0.34 -1 L 0.34 -1 L 0.34 -0.08 L 0.61 -0.08 L 0 1 L -0.61 -0.08 L -0.34 -0.08 Z"},
 "encoding": {"x": {"field": "k", "type": "quantitative", "scale": {"domain": [-1.915, 139.085], "nice": false, "zero": false}, "axis": null},
  "y": {"field": "p", "type": "quantitative", "scale": {"domain": [1532.95, 1548.118], "nice": false, "zero": false}, "axis": null}}},
{"data": {"name": "arw"}, "transform": [{"filter": "datum.a == 'g1'"}], "mark": {"type": "point", "filled": false, "stroke": "#22aa44", "strokeWidth": 4, "opacity": 1, "size": 2209, "shape": "M 0 -1 L 0.87 0.06 L 0.4 0.06 L 0.4 1 L -0.4 1 L -0.4 0.06 L -0.87 0.06 Z"},
 "encoding": {"x": {"field": "k", "type": "quantitative", "scale": {"domain": [-1.915, 139.085], "nice": false, "zero": false}, "axis": null},
  "y": {"field": "p", "type": "quantitative", "scale": {"domain": [1532.95, 1548.118], "nice": false, "zero": false}, "axis": null}}},
{"data": {"name": "arw"}, "transform": [{"filter": "datum.a == 'g2'"}], "mark": {"type": "point", "filled": false, "stroke": "#22aa44", "strokeWidth": 4, "opacity": 1, "size": 5000, "shape": "M 0 -1 L 0.5 0.06 L 0.26 0.06 L 0.26 1 L -0.26 1 L -0.26 0.06 L -0.5 0.06 Z"},
 "encoding": {"x": {"field": "k", "type": "quantitative", "scale": {"domain": [-1.915, 139.085], "nice": false, "zero": false}, "axis": null},
  "y": {"field": "p", "type": "quantitative", "scale": {"domain": [1532.95, 1548.118], "nice": false, "zero": false}, "axis": null}}},
{"data": {"name": "nt"}, "mark": {"type": "text", "font": "Open Sans", "fontWeight": "bold", "fontSize": 14, "color": "#ffffff", "align": "center", "baseline": "middle"},
 "encoding": {"x": {"field": "k", "type": "quantitative", "scale": {"domain": [-1.915, 139.085], "nice": false, "zero": false}, "axis": null},
  "y": {"field": "p", "type": "quantitative", "scale": {"domain": [1532.95, 1548.118], "nice": false, "zero": false}, "axis": null}, "text": {"field": "t"}}},
{"data": {"name": "txl"}, "mark": {"type": "text", "fontSize": 10.5, "align": "left", "baseline": "middle"},
 "encoding": {"x": {"field": "k", "type": "quantitative", "scale": {"domain": [-1.915, 139.085], "nice": false, "zero": false}, "axis": null},
  "y": {"field": "p", "type": "quantitative", "scale": {"domain": [1532.95, 1548.118], "nice": false, "zero": false}, "axis": null}, "text": {"field": "t"},
  "color": {"field": "kind", "type": "nominal", "scale": {"domain": ["w", "s"], "range": ["#f0f0f0", "#ff8585"]}, "legend": null}}},
{"data": {"name": "txr"}, "mark": {"type": "text", "fontSize": 10.5, "align": "right", "baseline": "middle", "color": "#f0f0f0"},
 "encoding": {"x": {"field": "k", "type": "quantitative", "scale": {"domain": [-1.915, 139.085], "nice": false, "zero": false}, "axis": null},
  "y": {"field": "p", "type": "quantitative", "scale": {"domain": [1532.95, 1548.118], "nice": false, "zero": false}, "axis": null}, "text": {"field": "t"}}},
{"data": {"name": "tg"}, "mark": {"type": "point", "filled": true, "size": 2209, "opacity": 1, "shape": "M -1 0 L -0.83 -0.29 L 1 -0.29 L 1 0.29 L -0.83 0.29 Z"},
 "encoding": {"x": {"datum": 141.16, "type": "quantitative", "scale": {"domain": [-1.915, 139.085], "nice": false, "zero": false}, "axis": null},
  "y": {"field": "p", "type": "quantitative", "scale": {"domain": [1532.95, 1548.118], "nice": false, "zero": false}, "axis": null},
  "fill": {"field": "kind", "type": "nominal", "scale": {"domain": ["range", "target", "last", "vwap", "vpoc", "pivot"], "range": ["#ffff00", "#22ee22", "#ffffff", "#80ffff", "#ff0a84", "#ff8000"]}, "legend": null}}},
{"data": {"name": "tg"}, "transform": [{"filter": "datum.kind == 'last'"}], "mark": {"type": "point", "filled": true, "size": 90, "shape": "triangle-left", "color": "#cc0000", "opacity": 1},
 "encoding": {"x": {"datum": 139.35, "type": "quantitative", "scale": {"domain": [-1.915, 139.085], "nice": false, "zero": false}, "axis": null},
  "y": {"field": "p", "type": "quantitative", "scale": {"domain": [1532.95, 1548.118], "nice": false, "zero": false}, "axis": null}}},
{"data": {"name": "tg"}, "mark": {"type": "text", "font": "Liberation Sans", "fontSize": 10.5, "color": "#303030", "align": "center", "baseline": "middle"},
 "encoding": {"x": {"datum": 141.38, "type": "quantitative", "scale": {"domain": [-1.915, 139.085], "nice": false, "zero": false}, "axis": null},
  "y": {"field": "p", "type": "quantitative", "scale": {"domain": [1532.95, 1548.118], "nice": false, "zero": false}, "axis": null}, "text": {"field": "t"}}},
{"data": {"values": [{"k": 131.5, "p": 1533.05}]}, "mark": {"type": "point", "shape": "triangle-up", "filled": true, "size": 30, "color": "#ffffff", "opacity": 1},
 "encoding": {"x": {"field": "k", "type": "quantitative", "scale": {"domain": [-1.915, 139.085], "nice": false, "zero": false}, "axis": null},
  "y": {"field": "p", "type": "quantitative", "scale": {"domain": [1532.95, 1548.118], "nice": false, "zero": false}, "axis": null}}}
]}
]
},
{
"width": 1884, "height": 13,
"view": {"fill": "#ececec", "stroke": null},
"layer": [
{"data": {"values": [{"z": 0}]}, "mark": {"type": "rule", "color": "#000000", "strokeWidth": 2},
 "encoding": {"y": {"datum": 0, "type": "quantitative", "scale": {"domain": [0, 1]}, "axis": null}}},
{"data": {"name": "b1t"}, "mark": {"type": "text", "align": "left", "baseline": "middle", "font": "Liberation Sans", "fontSize": 11.1, "color": "#000000"},
 "encoding": {"x": {"field": "k", "type": "quantitative", "scale": {"domain": [-1.915, 143.0], "nice": false, "zero": false}, "axis": null},
  "y": {"datum": 0.45, "type": "quantitative", "scale": {"domain": [0, 1]}, "axis": null}, "text": {"field": "t"}}},
{"data": {"name": "b1d"}, "mark": {"type": "point", "shape": "circle", "filled": true, "size": 55, "stroke": "#202020", "strokeWidth": 0.8, "opacity": 1},
 "encoding": {"x": {"field": "k", "type": "quantitative", "scale": {"domain": [-1.915, 143.0], "nice": false, "zero": false}, "axis": null},
  "y": {"datum": 0.45, "type": "quantitative", "scale": {"domain": [0, 1]}, "axis": null},
  "fill": {"field": "c", "type": "nominal", "scale": {"domain": ["g", "r", "lg", "k", "b", "gray", "w", "o"], "range": ["#00a000", "#c00000", "#22ff22", "#000000", "#0000ff", "#808080", "#d8d8d8", "#f8f8f8"]}, "legend": null}}}
]
},
{
"width": 1833, "height": 126,
"resolve": {"axis": {"x": "independent", "y": "independent"}},
"layer": [
{"data": {"name": "tk"}, "mark": {"type": "rule", "opacity": 0},
 "encoding": {"x": {"field": "k", "type": "quantitative", "scale": {"domain": [-1.915, 139.085], "nice": false, "zero": false},
   "axis": {"orient": "bottom", "values": [-0.44,4.56,9.56,14.56,19.56,24.56,29.56,34.56,39.56,44.56,49.56,54.56,59.56,64.56,69.56,74.56,79.56,84.56,89.56,94.56,99.56,104.56,109.56,114.56,119.56,124.56,129.56], "grid": true, "gridColor": "#2f3c74", "labels": false, "ticks": false, "domain": false, "title": null}},
  "y": {"field": "l", "type": "quantitative", "scale": {"domain": [-583.2, 736.1], "nice": false, "zero": false},
   "axis": {"orient": "right", "values": [-400,-200,0,200,400,600], "labelExpr": "'' + datum.value",
    "grid": true, "gridColor": "#2f3c74", "tickSize": 6, "tickColor": "#d8d8d8", "domainColor": "#d8d8d8", "labelColor": "#ffffff", "labelFont": "Liberation Sans", "labelFontSize": 10.5, "labelOffset": -3, "labelPadding": 1, "labelOverlap": false, "title": null}},
  "y2": {"field": "h"}}},
{"data": {"name": "tk"}, "mark": {"type": "rule", "opacity": 0},
 "encoding": {"x": {"field": "k", "type": "quantitative", "scale": {"domain": [-1.915, 139.085], "nice": false, "zero": false}, "axis": null},
  "y": {"field": "l", "type": "quantitative", "scale": {"domain": [-583.2, 736.1], "nice": false, "zero": false},
   "axis": {"orient": "right", "values": [-500,-300,-100,100,300,500,700], "labels": false, "grid": false, "domain": false, "tickSize": 3, "tickColor": "#d8d8d8", "title": null}},
  "y2": {"field": "h"}}},
{"data": {"values": [{"v": 714, "kind": "max"}, {"v": 600, "kind": "ob"}, {"v": 0, "kind": "zero"}, {"v": -503, "kind": "min"}]}, "mark": {"type": "rule", "strokeWidth": 1.5},
 "encoding": {"y": {"field": "v", "type": "quantitative", "scale": {"domain": [-583.2, 736.1], "nice": false, "zero": false}, "axis": null},
  "color": {"field": "kind", "type": "nominal", "scale": {"domain": ["max", "ob", "zero", "min"], "range": ["#1a1aff", "#22cc22", "#000000", "#1a1aff"]}, "legend": null}}},
{"data": {"name": "tk"}, "mark": {"type": "rule", "color": "#ffff66", "strokeWidth": 1.2},
 "encoding": {"x": {"field": "k", "type": "quantitative", "scale": {"domain": [-1.915, 139.085], "nice": false, "zero": false}, "axis": null},
  "y": {"field": "l", "type": "quantitative", "scale": {"domain": [-583.2, 736.1], "nice": false, "zero": false}, "axis": null},
  "y2": {"field": "h"}}},
{"data": {"name": "tk"}, "mark": {"type": "bar", "width": 8, "stroke": "#ffff66", "strokeWidth": 1.2},
 "encoding": {"x": {"field": "k", "type": "quantitative", "scale": {"domain": [-1.915, 139.085], "nice": false, "zero": false}, "axis": null},
  "y": {"field": "o", "type": "quantitative", "scale": {"domain": [-583.2, 736.1], "nice": false, "zero": false}, "axis": null}, "y2": {"field": "c"},
  "fill": {"condition": [{"test": "datum.c > datum.o", "value": "#00a000"}, {"test": "datum.c < datum.o", "value": "#bf0000"}], "value": "#ffff66"}}},
{"data": {"values": [{"v": 400, "t": "400.00"}]}, "mark": {"type": "point", "filled": true, "size": 2209, "color": "#ffffff", "opacity": 1, "shape": "M -1 0 L -0.83 -0.29 L 1 -0.29 L 1 0.29 L -0.83 0.29 Z"},
 "encoding": {"x": {"datum": 141.16, "type": "quantitative", "scale": {"domain": [-1.915, 139.085], "nice": false, "zero": false}, "axis": null},
  "y": {"field": "v", "type": "quantitative", "scale": {"domain": [-583.2, 736.1], "nice": false, "zero": false}, "axis": null}}},
{"data": {"values": [{"v": 400}]}, "mark": {"type": "point", "filled": true, "size": 90, "shape": "triangle-left", "color": "#cc0000", "opacity": 1},
 "encoding": {"x": {"datum": 139.35, "type": "quantitative", "scale": {"domain": [-1.915, 139.085], "nice": false, "zero": false}, "axis": null},
  "y": {"field": "v", "type": "quantitative", "scale": {"domain": [-583.2, 736.1], "nice": false, "zero": false}, "axis": null}}},
{"data": {"values": [{"v": 400, "t": "400.00"}]}, "mark": {"type": "text", "font": "Liberation Sans", "fontSize": 10.5, "color": "#303030", "align": "center", "baseline": "middle"},
 "encoding": {"x": {"datum": 141.38, "type": "quantitative", "scale": {"domain": [-1.915, 139.085], "nice": false, "zero": false}, "axis": null},
  "y": {"field": "v", "type": "quantitative", "scale": {"domain": [-583.2, 736.1], "nice": false, "zero": false}, "axis": null}, "text": {"field": "t"}}},
{"data": {"values": [{"k": -1.915, "v": 694, "t": "3.000 ^"}, {"k": -0.22, "v": -405, "t": "Fri"}, {"k": -1.915, "v": -510, "t": "3.000 v"}]}, "mark": {"type": "text", "fontSize": 10.5, "align": "left", "baseline": "middle", "color": "#e8e8e8"},
 "encoding": {"x": {"field": "k", "type": "quantitative", "scale": {"domain": [-1.915, 139.085], "nice": false, "zero": false}, "axis": null},
  "y": {"field": "v", "type": "quantitative", "scale": {"domain": [-583.2, 736.1], "nice": false, "zero": false}, "axis": null}, "text": {"field": "t"}}},
{"data": {"values": [{"v": 673}]}, "mark": {"type": "point", "shape": "square", "filled": true, "size": 200, "color": "#e6e6e6", "stroke": "#808080", "strokeWidth": 1, "opacity": 1},
 "encoding": {"x": {"datum": 142.47, "type": "quantitative", "scale": {"domain": [-1.915, 139.085], "nice": false, "zero": false}, "axis": null},
  "y": {"field": "v", "type": "quantitative", "scale": {"domain": [-583.2, 736.1], "nice": false, "zero": false}, "axis": null}}},
{"data": {"values": [{"v": 673, "t": "A"}]}, "mark": {"type": "text", "fontSize": 12, "fontWeight": "bold", "color": "#202020", "align": "center", "baseline": "middle"},
 "encoding": {"x": {"datum": 142.47, "type": "quantitative", "scale": {"domain": [-1.915, 139.085], "nice": false, "zero": false}, "axis": null},
  "y": {"field": "v", "type": "quantitative", "scale": {"domain": [-583.2, 736.1], "nice": false, "zero": false}, "axis": null}, "text": {"field": "t"}}},
{"data": {"values": [{"k": 131.5, "v": -541}]}, "mark": {"type": "point", "shape": "triangle-up", "filled": true, "size": 30, "color": "#ffffff", "opacity": 1},
 "encoding": {"x": {"field": "k", "type": "quantitative", "scale": {"domain": [-1.915, 139.085], "nice": false, "zero": false}, "axis": null},
  "y": {"field": "v", "type": "quantitative", "scale": {"domain": [-583.2, 736.1], "nice": false, "zero": false}, "axis": null}}}
]
},
{
"width": 1884, "height": 14,
"view": {"fill": "#ececec", "stroke": null},
"layer": [
{"data": {"values": [{"z": 0}]}, "mark": {"type": "rule", "color": "#000000", "strokeWidth": 2},
 "encoding": {"y": {"datum": 0, "type": "quantitative", "scale": {"domain": [0, 1]}, "axis": null}}},
{"data": {"name": "b2t"}, "mark": {"type": "text", "align": "left", "baseline": "middle", "font": "Liberation Sans", "fontSize": 11.1, "color": "#000000"},
 "encoding": {"x": {"field": "k", "type": "quantitative", "scale": {"domain": [-1.915, 143.0], "nice": false, "zero": false}, "axis": null},
  "y": {"datum": 0.5, "type": "quantitative", "scale": {"domain": [0, 1]}, "axis": null}, "text": {"field": "t"}}},
{"data": {"name": "b2d"}, "mark": {"type": "point", "shape": "circle", "filled": true, "size": 55, "stroke": "#202020", "strokeWidth": 0.8, "opacity": 1},
 "encoding": {"x": {"field": "k", "type": "quantitative", "scale": {"domain": [-1.915, 143.0], "nice": false, "zero": false}, "axis": null},
  "y": {"datum": 0.5, "type": "quantitative", "scale": {"domain": [0, 1]}, "axis": null},
  "fill": {"field": "c", "type": "nominal", "scale": {"domain": ["g", "r", "lg", "k", "b", "gray", "w", "o"], "range": ["#00a000", "#c00000", "#22ff22", "#000000", "#0000ff", "#808080", "#d8d8d8", "#f8f8f8"]}, "legend": null}}}
]
},
{
"width": 1833, "height": 104,
"resolve": {"axis": {"x": "independent", "y": "independent"}},
"layer": [
{"data": {"name": "jg"}, "mark": {"type": "rule", "opacity": 0},
 "encoding": {"x": {"field": "k", "type": "quantitative", "scale": {"domain": [-1.915, 139.085], "nice": false, "zero": false},
   "axis": {"orient": "bottom", "values": [-0.44,4.56,9.56,14.56,19.56,24.56,29.56,34.56,39.56,44.56,49.56,54.56,59.56,64.56,69.56,74.56,79.56,84.56,89.56,94.56,99.56,104.56,109.56,114.56,119.56,124.56,129.56], "grid": true, "gridColor": "#2f3c74", "labels": true, "ticks": false, "domain": false, "title": null,
    "labelExpr": "timeFormat(datetime(2013, 2, 8, 8, 36 + 15 * round((datum.value + 0.44) / 5)), '%H:%M')",
    "labelOffset": 13.5, "labelPadding": 12, "labelColor": "#ffffff", "labelFont": "Liberation Sans", "labelFontSize": 10.5, "labelOverlap": false}},
  "y": {"field": "l", "type": "quantitative", "scale": {"domain": [-30, 490], "nice": false, "zero": false},
   "axis": {"orient": "right", "values": [0,50,100,150,200,250,300,350,400,450],
    "labelExpr": "(datum.value == 50 || datum.value == 150 || datum.value == 350 || datum.value == 450) ? '' + datum.value : ''",
    "grid": true, "gridColor": "#2f3c74", "tickSize": 6, "tickColor": "#d8d8d8", "domainColor": "#d8d8d8", "labelColor": "#ffffff", "labelFont": "Liberation Sans", "labelFontSize": 10.5, "labelOffset": -3, "labelPadding": 1, "labelOverlap": false, "title": null}},
  "y2": {"field": "h"}}},
{"data": {"name": "jg"}, "mark": {"type": "rule", "opacity": 0},
 "encoding": {"x": {"field": "k", "type": "quantitative", "scale": {"domain": [-1.915, 139.085], "nice": false, "zero": false}, "axis": null},
  "y": {"field": "l", "type": "quantitative", "scale": {"domain": [-30, 490], "nice": false, "zero": false},
   "axis": {"orient": "right", "values": [25,75,125,175,225,275,325,375,425,475], "labels": false, "grid": false, "domain": false, "tickSize": 3, "tickColor": "#d8d8d8", "title": null}},
  "y2": {"field": "h"}}},
{"data": {"values": [{"v": 446, "kind": "ref"}, {"v": 2, "kind": "zero"}]}, "mark": {"type": "rule", "strokeWidth": 1.5},
 "encoding": {"y": {"field": "v", "type": "quantitative", "scale": {"domain": [-30, 490], "nice": false, "zero": false}, "axis": null},
  "color": {"field": "kind", "type": "nominal", "scale": {"domain": ["ref", "zero"], "range": ["#9a9a9a", "#000000"]}, "legend": null}}},
{"data": {"name": "jg"}, "mark": {"type": "rule", "color": "#ffff66", "strokeWidth": 1.2},
 "encoding": {"x": {"field": "k", "type": "quantitative", "scale": {"domain": [-1.915, 139.085], "nice": false, "zero": false}, "axis": null},
  "y": {"field": "l", "type": "quantitative", "scale": {"domain": [-30, 490], "nice": false, "zero": false}, "axis": null},
  "y2": {"field": "h"}}},
{"data": {"name": "jg"}, "mark": {"type": "bar", "width": 8, "stroke": "#ffff66", "strokeWidth": 1.2},
 "encoding": {"x": {"field": "k", "type": "quantitative", "scale": {"domain": [-1.915, 139.085], "nice": false, "zero": false}, "axis": null},
  "y": {"field": "o", "type": "quantitative", "scale": {"domain": [-30, 490], "nice": false, "zero": false}, "axis": null}, "y2": {"field": "c"},
  "fill": {"condition": [{"test": "datum.c > datum.o", "value": "#00a000"}, {"test": "datum.c < datum.o", "value": "#bf0000"}], "value": "#ffff66"}}},
{"data": {"values": [{"v": 285, "t": "285.00"}]}, "mark": {"type": "point", "filled": true, "size": 2209, "color": "#ffffff", "opacity": 1, "shape": "M -1 0 L -0.83 -0.29 L 1 -0.29 L 1 0.29 L -0.83 0.29 Z"},
 "encoding": {"x": {"datum": 141.16, "type": "quantitative", "scale": {"domain": [-1.915, 139.085], "nice": false, "zero": false}, "axis": null},
  "y": {"field": "v", "type": "quantitative", "scale": {"domain": [-30, 490], "nice": false, "zero": false}, "axis": null}}},
{"data": {"values": [{"v": 285}]}, "mark": {"type": "point", "filled": true, "size": 90, "shape": "triangle-left", "color": "#00a000", "opacity": 1},
 "encoding": {"x": {"datum": 139.35, "type": "quantitative", "scale": {"domain": [-1.915, 139.085], "nice": false, "zero": false}, "axis": null},
  "y": {"field": "v", "type": "quantitative", "scale": {"domain": [-30, 490], "nice": false, "zero": false}, "axis": null}}},
{"data": {"values": [{"v": 285, "t": "285.00"}]}, "mark": {"type": "text", "font": "Liberation Sans", "fontSize": 10.5, "color": "#303030", "align": "center", "baseline": "middle"},
 "encoding": {"x": {"datum": 141.38, "type": "quantitative", "scale": {"domain": [-1.915, 139.085], "nice": false, "zero": false}, "axis": null},
  "y": {"field": "v", "type": "quantitative", "scale": {"domain": [-30, 490], "nice": false, "zero": false}, "axis": null}, "text": {"field": "t"}}},
{"data": {"values": [{"k": -1.915, "v": 445, "t": "2.000 ^"}, {"k": -0.22, "v": 55, "t": "Fri"}, {"k": -1.915, "v": 5, "t": "00 v"}, {"k": 0.0, "v": -9, "t": "3/08"}]}, "mark": {"type": "text", "fontSize": 10.5, "align": "left", "baseline": "middle", "color": "#e8e8e8"},
 "encoding": {"x": {"field": "k", "type": "quantitative", "scale": {"domain": [-1.915, 139.085], "nice": false, "zero": false}, "axis": null},
  "y": {"field": "v", "type": "quantitative", "scale": {"domain": [-30, 490], "nice": false, "zero": false}, "axis": null}, "text": {"field": "t"}}},
{"data": {"values": [{"v": 455}]}, "mark": {"type": "point", "shape": "square", "filled": true, "size": 200, "color": "#e6e6e6", "stroke": "#808080", "strokeWidth": 1, "opacity": 1},
 "encoding": {"x": {"datum": 142.47, "type": "quantitative", "scale": {"domain": [-1.915, 139.085], "nice": false, "zero": false}, "axis": null},
  "y": {"field": "v", "type": "quantitative", "scale": {"domain": [-30, 490], "nice": false, "zero": false}, "axis": null}}},
{"data": {"values": [{"v": 455, "t": "A"}]}, "mark": {"type": "text", "fontSize": 12, "fontWeight": "bold", "color": "#202020", "align": "center", "baseline": "middle"},
 "encoding": {"x": {"datum": 142.47, "type": "quantitative", "scale": {"domain": [-1.915, 139.085], "nice": false, "zero": false}, "axis": null},
  "y": {"field": "v", "type": "quantitative", "scale": {"domain": [-30, 490], "nice": false, "zero": false}, "axis": null}, "text": {"field": "t"}}},
{"data": {"values": [{"k": 131.5, "v": -20}]}, "mark": {"type": "point", "shape": "triangle-up", "filled": true, "size": 30, "color": "#ffffff", "opacity": 1},
 "encoding": {"x": {"field": "k", "type": "quantitative", "scale": {"domain": [-1.915, 139.085], "nice": false, "zero": false}, "axis": null},
  "y": {"field": "v", "type": "quantitative", "scale": {"domain": [-30, 490], "nice": false, "zero": false}, "axis": null}}}
]
},
{
"width": 1884, "height": 28,
"data": {"values": [{"a": 1}]},
"mark": {"type": "point", "opacity": 0},
"encoding": {}
}
]
}
